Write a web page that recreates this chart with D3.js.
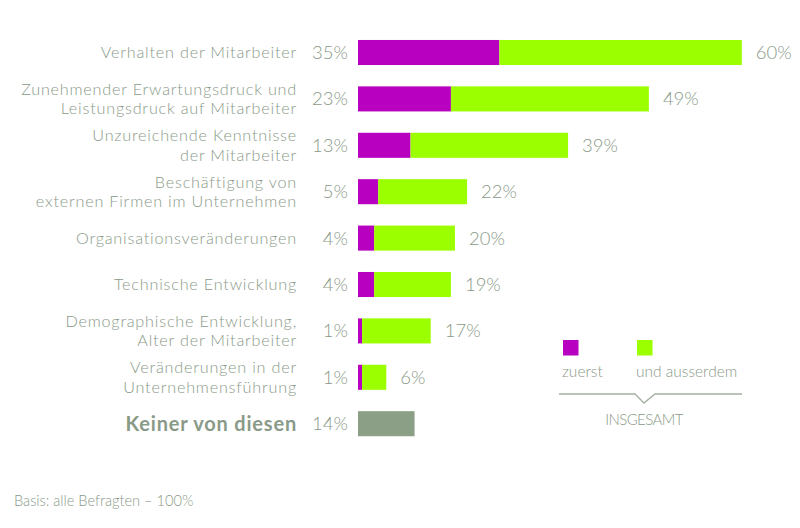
<!DOCTYPE html>
<html>
<head>
<meta charset="utf-8">
<script src="https://cdn.jsdelivr.net/npm/d3@7"></script>
<style>
  body { margin: 0; background: #fff; }
  text { font-family: Lato, "Open Sans", sans-serif; font-weight: 300; fill: #8a9a88; }
</style>
</head>
<body>
<div id="chart"></div>
<script>
// DATA
var categories = [
  ["Verhalten der Mitarbeiter"],
  ["Zunehmender Erwartungsdruck und", "Leistungsdruck auf Mitarbeiter"],
  ["Unzureichende Kenntnisse", "der Mitarbeiter"],
  ["Beschäftigung von", "externen Firmen im Unternehmen"],
  ["Organisationsveränderungen"],
  ["Technische Entwicklung"],
  ["Demographische Entwicklung,", "Alter der Mitarbeiter"],
  ["Veränderungen in der", "Unternehmensführung"],
  ["Keiner von diesen"]
];
var zuerst = [35, 23, 13, 5, 4, 4, 1, 1, 14];
var insgesamt = [60, 49, 39, 22, 20, 19, 17, 6, null];
var legendLabels = ["zuerst", "und ausserdem"];
var footnote = "Basis: alle Befragten – 100%";

var purple = "#b800c0", green = "#9cff00", grey = "#8b9f86";

// CHART SETUP
var width = 800, height = 528;
var svg = d3.select("#chart").append("svg")
  .attr("width", width)
  .attr("height", height);

var xScale = d3.scaleLinear().domain([0, 100]).range([358, 762]);
var yScale = d3.scaleBand()
  .domain(d3.range(categories.length))
  .range([29.3, 446.9])
  .paddingInner(0.46)
  .paddingOuter(0.23);

var last = categories.length - 1;

var rows = svg.selectAll(".row")
  .data(categories)
  .enter()
  .append("g")
  .attr("class", "row")
  .attr("transform", (d, i) => "translate(0," + (yScale(i) + yScale.bandwidth() / 2) + ")");

// category labels
rows.append("text")
  .attr("text-anchor", "end")
  .attr("x", 297)
  .style("font-weight", (d, i) => i === last ? 700 : 300)
  .style("font-size", (d, i) => i === last ? "20px" : "16.2px")
  .style("letter-spacing", (d, i) => i === last ? "0.8px" : "0.8px")
  .each(function (d) {
    var t = d3.select(this);
    var off = d.length === 1 ? [0] : [-9.8, 9.8];
    d.forEach(function (line, k) {
      t.append("tspan")
        .attr("x", 297)
        .attr("y", off[k])
        .attr("dy", "0.35em")
        .text(line);
    });
  });

// first values
rows.append("text")
  .attr("text-anchor", "end")
  .attr("x", 348)
  .attr("dy", "0.35em")
  .style("font-size", "18.5px")
  .text((d, i) => zuerst[i] + "%");

var bh = yScale.bandwidth();

// purple / grey segment
rows.append("rect")
  .attr("x", xScale(0))
  .attr("y", -bh / 2)
  .attr("width", (d, i) => xScale(zuerst[i]) - xScale(0))
  .attr("height", bh)
  .attr("fill", (d, i) => insgesamt[i] == null ? grey : purple);

// green segment
rows.filter((d, i) => insgesamt[i] != null)
  .append("rect")
  .attr("x", (d) => xScale(zuerst[categories.indexOf(d)]))
  .attr("y", -bh / 2)
  .attr("width", (d) => {
    var i = categories.indexOf(d);
    return xScale(zuerst[i] + insgesamt[i]) - xScale(zuerst[i]);
  })
  .attr("height", bh)
  .attr("fill", green);

// total labels
rows.filter((d, i) => insgesamt[i] != null)
  .append("text")
  .attr("x", (d) => {
    var i = categories.indexOf(d);
    return xScale(zuerst[i] + insgesamt[i]) + 14;
  })
  .attr("dy", "0.35em")
  .style("font-size", "18.5px")
  .text((d) => insgesamt[categories.indexOf(d)] + "%");

// LEGEND
var legend = svg.append("g");
var legendX = [563, 637];
legend.selectAll("rect")
  .data(legendLabels)
  .enter()
  .append("rect")
  .attr("x", (d, i) => legendX[i])
  .attr("y", 340)
  .attr("width", 15.5)
  .attr("height", 15.5)
  .attr("fill", (d, i) => [purple, green][i]);
legend.selectAll("text.leg")
  .data(legendLabels)
  .enter()
  .append("text")
  .attr("class", "leg")
  .attr("x", (d, i) => legendX[i] - 1)
  .attr("y", 372)
  .attr("dy", "0.35em")
  .style("font-size", "15.5px")
  .text((d) => d);

legend.append("path")
  .attr("d", "M559,394 L635,394 L644,403 L655,394 L742,394")
  .attr("fill", "none")
  .attr("stroke", "#a5afa3")
  .attr("stroke-width", 1.3);

legend.append("text")
  .attr("x", 644)
  .attr("y", 420)
  .attr("dy", "0.35em")
  .attr("text-anchor", "middle")
  .style("font-size", "15px")
  .style("letter-spacing", "-0.6px")
  .text("INSGESAMT");

// FOOTNOTE
svg.append("text")
  .attr("x", 14)
  .attr("y", 501)
  .attr("dy", "0.35em")
  .style("font-size", "14.6px")
  .text(footnote);
</script>
</body>
</html>
